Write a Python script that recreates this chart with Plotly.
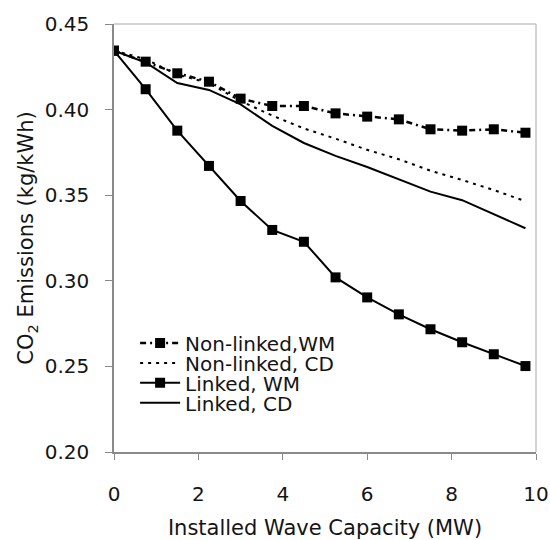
import plotly.graph_objects as go

# Installed wave capacity (MW)
capacity = [0, 0.75, 1.5, 2.25, 3, 3.75, 4.5, 5.25, 6, 6.75, 7.5, 8.25, 9, 9.75]

# CO2 emissions (kg/kWh) for each scenario
nonlinked_wm = [0.4344, 0.4280, 0.4212, 0.4163, 0.4064, 0.4021, 0.4021, 0.3978,
                0.3959, 0.3943, 0.3885, 0.3877, 0.3885, 0.3865]
nonlinked_cd = [0.4344, 0.4295, 0.4205, 0.4155, 0.4050, 0.3965, 0.3890, 0.3830,
                0.3765, 0.3710, 0.3643, 0.3589, 0.3530, 0.3465]
linked_wm = [0.4344, 0.4119, 0.3877, 0.3671, 0.3466, 0.3297, 0.3228, 0.3020,
             0.2903, 0.2804, 0.2717, 0.2641, 0.2571, 0.2502]
linked_cd = [0.4344, 0.4275, 0.4155, 0.4115, 0.4030, 0.3905, 0.3805, 0.3730,
             0.3665, 0.3591, 0.3521, 0.3471, 0.3390, 0.3307]

series_names = ["Non-linked,WM", "Non-linked, CD", "Linked, WM", "Linked, CD"]

x_ticks = [0, 2, 4, 6, 8, 10]
y_ticks = [0.20, 0.25, 0.30, 0.35, 0.40, 0.45]

FONT = "DejaVu Sans, Arial, sans-serif"
INK = "#141414"

fig = go.Figure()

fig.add_trace(go.Scatter(
    x=capacity, y=nonlinked_wm, name=series_names[0], mode="lines+markers",
    line=dict(color="black", width=2.5, dash="6px,4px,2px,4px"),
    marker=dict(symbol="square", size=10, color="black"),
    legend="legend"))
fig.add_trace(go.Scatter(
    x=capacity, y=nonlinked_cd, name=series_names[1], mode="lines",
    line=dict(color="black", width=2, dash="3px,5px"),
    legend="legend2"))
fig.add_trace(go.Scatter(
    x=capacity, y=linked_wm, name=series_names[2], mode="lines+markers",
    line=dict(color="black", width=2),
    marker=dict(symbol="square", size=10, color="black"),
    legend="legend3"))
fig.add_trace(go.Scatter(
    x=capacity, y=linked_cd, name=series_names[3], mode="lines",
    line=dict(color="black", width=2),
    legend="legend4"))

# one legend box per row so the rows can sit closely together
legend_style = dict(xanchor="left", yanchor="middle", x=0.05, itemwidth=40,
                    bgcolor="rgba(0,0,0,0)", borderwidth=0,
                    font=dict(family=FONT, size=20, color=INK))
row_y = [0.2547, 0.2080, 0.1617, 0.1150]

fig.update_layout(
    width=550, height=540,
    margin=dict(l=114, r=14, t=24, b=88, autoexpand=False),
    paper_bgcolor="white", plot_bgcolor="white",
    font=dict(family=FONT, color=INK),
    showlegend=True,
    legend=dict(y=row_y[0], **legend_style),
    legend2=dict(y=row_y[1], **legend_style),
    legend3=dict(y=row_y[2], **legend_style),
    legend4=dict(y=row_y[3], **legend_style),
    xaxis=dict(
        range=[0, 10], tickvals=x_ticks, ticktext=[str(v) for v in x_ticks],
        showgrid=False, zeroline=False, showline=True, linecolor="#8a8a8a",
        linewidth=1.5, ticks="outside", ticklen=6, tickcolor="#8a8a8a",
        tickfont=dict(family=FONT, size=20, color=INK),
        ticklabelstandoff=17, automargin=False,
        title=dict(text="Installed Wave Capacity (MW)", standoff=24,
                   font=dict(family=FONT, size=21, color=INK)),
    ),
    yaxis=dict(
        range=[0.20, 0.45], tickvals=y_ticks, ticktext=[f"{v:.2f}" for v in y_ticks],
        showgrid=False, zeroline=False, showline=True, linecolor="#8a8a8a",
        linewidth=1.5, ticks="outside", ticklen=7, tickcolor="#8a8a8a",
        tickfont=dict(family=FONT, size=20, color=INK),
        ticklabelstandoff=12, automargin=False,
        title=dict(text="CO<sub>2</sub> Emissions (kg/kWh)", standoff=5,
                   font=dict(family=FONT, size=21, color=INK)),
    ),
)

# light frame on the top and right edges of the plot area
fig.add_shape(type="line", xref="paper", yref="paper", x0=0, x1=1, y0=1, y1=1,
              line=dict(color="#c4c4c4", width=1.5))
fig.add_shape(type="line", xref="paper", yref="paper", x0=1, x1=1, y0=0, y1=1,
              line=dict(color="#c4c4c4", width=1.5))

fig.write_html("out.html")
